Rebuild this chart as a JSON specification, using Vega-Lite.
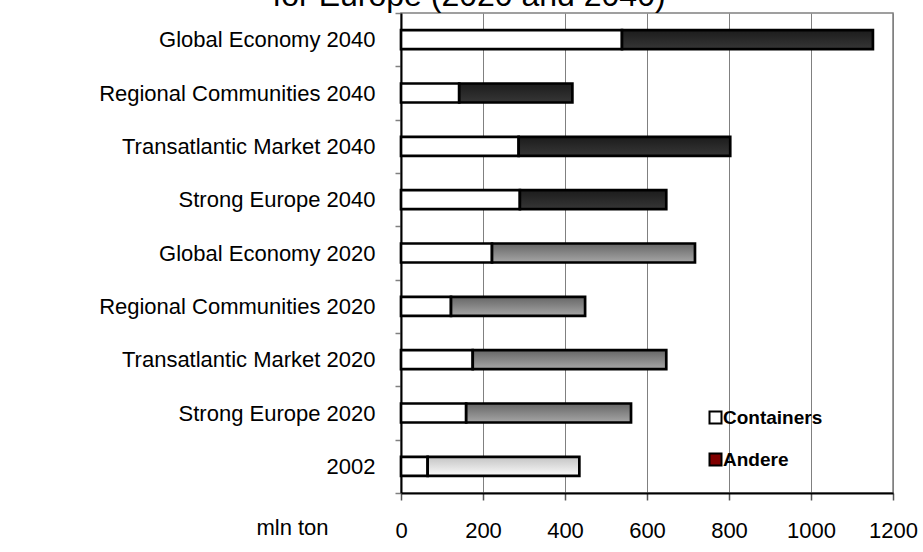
{
  "$schema": "https://vega.github.io/schema/vega-lite/v6.json",
  "autosize": {"type": "none"},
  "width": 492,
  "height": 480,
  "padding": {"left": 401, "top": 13, "right": 30, "bottom": 59},
  "background": "white",
  "title": {
    "text": "for Europe (2020 and 2040)",
    "font": "Liberation Sans",
    "fontSize": 32,
    "fontWeight": "normal",
    "color": "black",
    "anchor": "middle",
    "baseline": "alphabetic",
    "offset": -36,
    "dx": -178
  },
  "datasets": {
    "bars": [
      {"scenario": "Global Economy 2040", "period": "2040", "containers": 539, "total": 1151},
      {"scenario": "Regional Communities 2040", "period": "2040", "containers": 142, "total": 418},
      {"scenario": "Transatlantic Market 2040", "period": "2040", "containers": 287, "total": 803},
      {"scenario": "Strong Europe 2040", "period": "2040", "containers": 290, "total": 647},
      {"scenario": "Global Economy 2020", "period": "2020", "containers": 222, "total": 717},
      {"scenario": "Regional Communities 2020", "period": "2020", "containers": 122, "total": 449},
      {"scenario": "Transatlantic Market 2020", "period": "2020", "containers": 175, "total": 647},
      {"scenario": "Strong Europe 2020", "period": "2020", "containers": 159, "total": 561},
      {"scenario": "2002", "period": "2002", "containers": 65, "total": 435}
    ],
    "legend": [
      {"series": "Containers"},
      {"series": "Andere"}
    ]
  },
  "data": {"name": "bars"},
  "encoding": {
    "y": {
      "field": "scenario",
      "type": "nominal",
      "sort": null,
      "scale": {"paddingInner": 0, "paddingOuter": 0},
      "axis": {
        "title": null,
        "tickBand": "extent",
        "tickSize": 6,
        "tickColor": "#808080",
        "tickWidth": 1.5,
        "domainColor": "black",
        "domainWidth": 2,
        "labelFont": "Liberation Sans",
        "labelFontSize": 22,
        "labelColor": "black",
        "labelPadding": 20,
        "labelLimit": 400,
        "grid": false
      }
    }
  },
  "layer": [
    {
      "mark": {"type": "bar", "size": 19, "fill": "white", "stroke": "black", "strokeWidth": 2.7},
      "encoding": {
        "x": {
          "field": "containers",
          "type": "quantitative",
          "scale": {"domain": [0, 1200], "nice": false, "zero": true},
          "axis": {
            "values": [0, 200, 400, 600, 800, 1000, 1200],
            "format": "d",
            "grid": true,
            "gridColor": "#808080",
            "gridWidth": 1,
            "tickSize": 7,
            "tickColor": "#555555",
            "tickWidth": 1.5,
            "domainColor": "black",
            "domainWidth": 2,
            "labelFont": "Liberation Sans",
            "labelFontSize": 22,
            "labelColor": "black",
            "labelPadding": 20,
            "labelFlush": false,
            "labelOverlap": false,
            "title": "mln ton",
            "titleFont": "Liberation Sans",
            "titleFontSize": 22,
            "titleFontWeight": "normal",
            "titleColor": "black",
            "titleAnchor": null,
            "titleAlign": "center",
            "titleBaseline": "alphabetic",
            "titleX": -109,
            "titleY": 41
          }
        }
      }
    },
    {
      "transform": [{"filter": "datum.period === '2040'"}],
      "mark": {
        "type": "bar", "size": 19, "stroke": "black", "strokeWidth": 2.7,
        "fill": {"gradient": "linear", "x1": 0, "y1": 0, "x2": 0, "y2": 1,
          "stops": [{"offset": 0, "color": "#1c1c1c"}, {"offset": 1, "color": "#363636"}]}
      },
      "encoding": {
        "x": {"field": "containers", "type": "quantitative"},
        "x2": {"field": "total"}
      }
    },
    {
      "transform": [{"filter": "datum.period === '2020'"}],
      "mark": {
        "type": "bar", "size": 19, "stroke": "black", "strokeWidth": 2.7,
        "fill": {"gradient": "linear", "x1": 0, "y1": 0, "x2": 0, "y2": 1,
          "stops": [{"offset": 0, "color": "#666666"}, {"offset": 1, "color": "#a6a6a6"}]}
      },
      "encoding": {
        "x": {"field": "containers", "type": "quantitative"},
        "x2": {"field": "total"}
      }
    },
    {
      "transform": [{"filter": "datum.period === '2002'"}],
      "mark": {
        "type": "bar", "size": 19, "stroke": "black", "strokeWidth": 2.7,
        "fill": {"gradient": "linear", "x1": 0, "y1": 0, "x2": 0, "y2": 1,
          "stops": [{"offset": 0, "color": "#c4c4c4"}, {"offset": 1, "color": "#fafafa"}]}
      },
      "encoding": {
        "x": {"field": "containers", "type": "quantitative"},
        "x2": {"field": "total"}
      }
    },
    {
      "data": {"name": "legend"},
      "mark": {"type": "point", "shape": "square", "filled": true, "size": 0},
      "encoding": {
        "y": {"value": 0},
        "fill": {
          "field": "series",
          "type": "nominal",
          "scale": {"domain": ["Containers", "Andere"], "range": ["white", "#800000"]},
          "legend": {
            "title": null,
            "orient": "none",
            "legendX": 305,
            "legendY": 395,
            "padding": 0,
            "symbolType": "square",
            "symbolSize": 144,
            "symbolStrokeColor": "black",
            "symbolStrokeWidth": 2,
            "symbolOpacity": 1,
            "labelFont": "Liberation Sans",
            "labelFontSize": 19,
            "labelFontWeight": "bold",
            "labelColor": "black",
            "labelOffset": -2,
            "rowPadding": 21
          }
        }
      }
    }
  ],
  "config": {
    "view": {"stroke": "#808080", "strokeWidth": 1.5},
    "font": "Liberation Sans"
  }
}
